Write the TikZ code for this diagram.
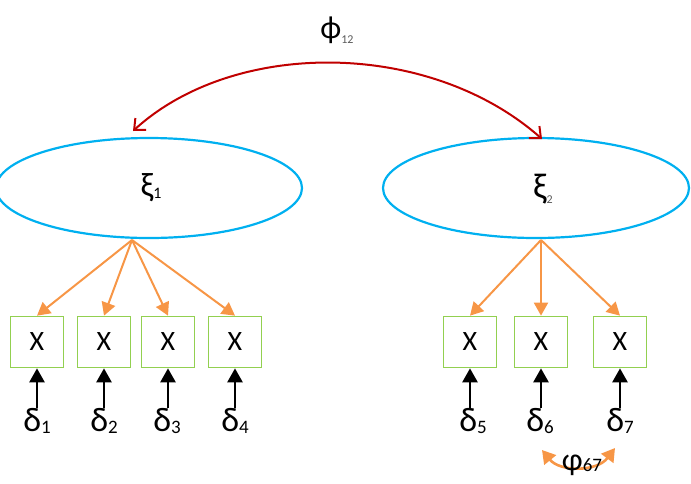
\documentclass[tikz,border=0pt]{standalone}
\usepackage{fontspec}
\setmainfont{Carlito}
\usetikzlibrary{shapes.geometric,arrows.meta}
\definecolor{ellc}{HTML}{00B0F0}
\definecolor{loadc}{HTML}{F79646}
\definecolor{boxc}{HTML}{92D050}
\definecolor{covc}{HTML}{C00000}
\definecolor{subc}{HTML}{595959}
\newcommand{\fsz}[1]{\fontsize{#1}{#1}\selectfont}
\begin{document}
\begin{tikzpicture}[x=1pt,y=-1pt,
  latent/.style={draw=ellc,line width=2.2pt,ellipse,minimum width=306pt,minimum height=100pt,inner sep=0pt},
  obs/.style={draw=boxc,line width=1.7pt,rectangle,minimum width=53pt,minimum height=51pt,inner sep=0pt,font=\fsz{28}},
  errlab/.style={inner sep=0pt,anchor=north,font=\fsz{34}},
  load/.style={draw=loadc,line width=2pt,-{Triangle[length=13pt,width=14pt]}},
  err/.style={draw=black,line width=2.6pt,-{Triangle[length=14pt,width=15pt]}},
  cov/.style={draw=covc,line width=2pt,{Straight Barb[length=9pt,width=16pt]}-{Straight Barb[length=9pt,width=16pt]}},
  cov2/.style={draw=loadc,line width=2.6pt,{Triangle[length=13pt,width=15pt]}-{Triangle[length=13pt,width=15pt]}}
]
\useasboundingbox (0,0) rectangle (691,483);
% latent variables
\node[latent] (e1) at (149,188) {};
\node[latent] (e2) at (536,188) {};
\node[font=\fsz{34}] (l1) at (151,188) {ξ\raisebox{-2pt}{\fsz{16}1}};
\node[font=\fsz{36}] (l2) at (543,189) {ξ\raisebox{-5pt}{\color{subc}\fsz{12}2}};
% covariance between latent variables
\coordinate (c1) at (133,131);
\coordinate (c2) at (542,139);
\draw[cov] (c1) .. controls (235,38) and (430,40) .. (c2);
\node[font=\fsz{32}] (phi12) at (337,30) {ϕ\raisebox{-5pt}{\color{subc}\fsz{12}12}};
% observed variables
\node[obs] (x1) at (37,342) {X};
\node[obs] (x2) at (104,342) {X};
\node[obs] (x3) at (168,342) {X};
\node[obs] (x4) at (235,342) {X};
\node[obs] (x5) at (470,342) {X};
\node[obs] (x6) at (541,342) {X};
\node[obs] (x7) at (620,342) {X};
% loadings
\coordinate (a1) at (132,240);
\coordinate (a2) at (541,240);
\foreach \i in {1,2,3,4}{\draw[load] (a1) -- (x\i.north);}
\foreach \i in {5,6,7}{\draw[load] (a2) -- (x\i.north);}
% errors
\node[errlab] (d1) at (37,408) {δ\raisebox{-2pt}{\fsz{19}1}};
\node[errlab] (d2) at (104,408) {δ\raisebox{-2pt}{\fsz{19}2}};
\node[errlab] (d3) at (167,408) {δ\raisebox{-2pt}{\fsz{19}3}};
\node[errlab] (d4) at (235,408) {δ\raisebox{-2pt}{\fsz{19}4}};
\node[errlab] (d5) at (473,408) {δ\raisebox{-2pt}{\fsz{19}5}};
\node[errlab] (d6) at (540,408) {δ\raisebox{-2pt}{\fsz{19}6}};
\node[errlab] (d7) at (620,408) {δ\raisebox{-2pt}{\fsz{19}7}};
\foreach \i in {1,...,7}{\draw[err] (d\i.north -| x\i.south) -- (x\i.south);}
% error covariance
\coordinate (f1) at (542,450);
\coordinate (f2) at (615,448);
\draw[cov2] (f1) .. controls (560,472) and (597,472) .. (f2);
\node[font=\fsz{32},anchor=north,inner sep=0pt] (phi67) at (582,455) {φ\raisebox{-1pt}{\fsz{19}67}};
\end{tikzpicture}
\end{document}
